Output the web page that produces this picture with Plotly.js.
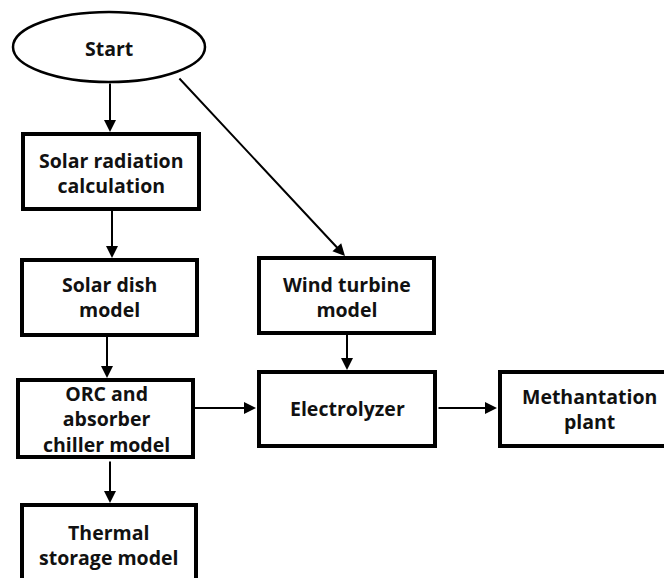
<!DOCTYPE html>
<html>
<head>
<meta charset="utf-8">
<script src="https://cdn.plot.ly/plotly-3.0.1.min.js"></script>
<style>html,body{margin:0;padding:0;background:#fff;}#chart{width:664px;height:578px;}</style>
</head>
<body>
<div id="chart"></div>
<script>
// Flowchart nodes (labels and box extents in page-pixel data units)
const nodeLabels = ["Start", "Solar radiation<br>calculation", "Solar dish<br>model", "ORC and<br>absorber<br>chiller model", "Thermal<br>storage model", "Wind turbine<br>model", "Electrolyzer", "Methantation<br>plant"];
const nodeX0 = [13, 23, 22, 18, 22, 259, 259, 500];
const nodeX1 = [205, 199, 197, 193, 196, 434, 435, 800];
const nodeY0 = [12, 134, 260, 380, 505, 258, 372, 372];
const nodeY1 = [82, 209, 335, 457, 595, 333, 446, 446];
const nodeType = ["ellipse", "box", "box", "box", "box", "box", "box", "box"];
const labelX = [109, 111, 109, 106, 109, 347, 347, 589];
const labelY = [48, 173, 297, 419, 545, 297, 408, 409];

// Connectors: tail (from) -> tip (to)
const edgeFromX = [110, 112, 107, 110, 178, 347, 193, 437];
const edgeFromY = [82, 209, 335, 460, 77, 333, 408, 408];
const edgeToX = [110, 112, 107, 110, 345, 347, 256, 497];
const edgeToY = [132, 258, 378, 503, 256, 370, 408, 408];

const shapes = nodeLabels.map((_, i) => ({
  type: nodeType[i] === "ellipse" ? "circle" : "rect",
  xref: "x", yref: "y",
  x0: nodeX0[i], x1: nodeX1[i], y0: nodeY0[i], y1: nodeY1[i],
  line: {color: "#000", width: nodeType[i] === "ellipse" ? 2.5 : 4},
  fillcolor: "rgba(0,0,0,0)"
}));

const textAnn = nodeLabels.map((t, i) => ({
  x: labelX[i], y: labelY[i], xref: "x", yref: "y",
  text: t, showarrow: false,
  font: {family: "Open Sans, sans-serif", size: 19.5, color: "#111", weight: 700},
  align: "center"
}));

const arrowAnn = edgeFromX.map((_, i) => ({
  x: edgeToX[i], y: edgeToY[i], ax: edgeFromX[i], ay: edgeFromY[i],
  xref: "x", yref: "y", axref: "x", ayref: "y",
  text: "", showarrow: true, arrowhead: 2, arrowsize: 1.2, arrowwidth: 2,
  arrowcolor: "#000", standoff: 0, startstandoff: 0
}));

const layout = {
  width: 664, height: 578,
  margin: {l: 0, r: 0, t: 0, b: 0},
  paper_bgcolor: "#fff", plot_bgcolor: "#fff",
  xaxis: {range: [0, 664], visible: false, fixedrange: true},
  yaxis: {range: [578, 0], visible: false, fixedrange: true},
  shapes: shapes,
  annotations: textAnn.concat(arrowAnn),
  showlegend: false
};

Plotly.newPlot("chart", [{x: [], y: [], type: "scatter", mode: "markers", hoverinfo: "skip"}], layout, {staticPlot: true, displayModeBar: false});
</script>
</body>
</html>
